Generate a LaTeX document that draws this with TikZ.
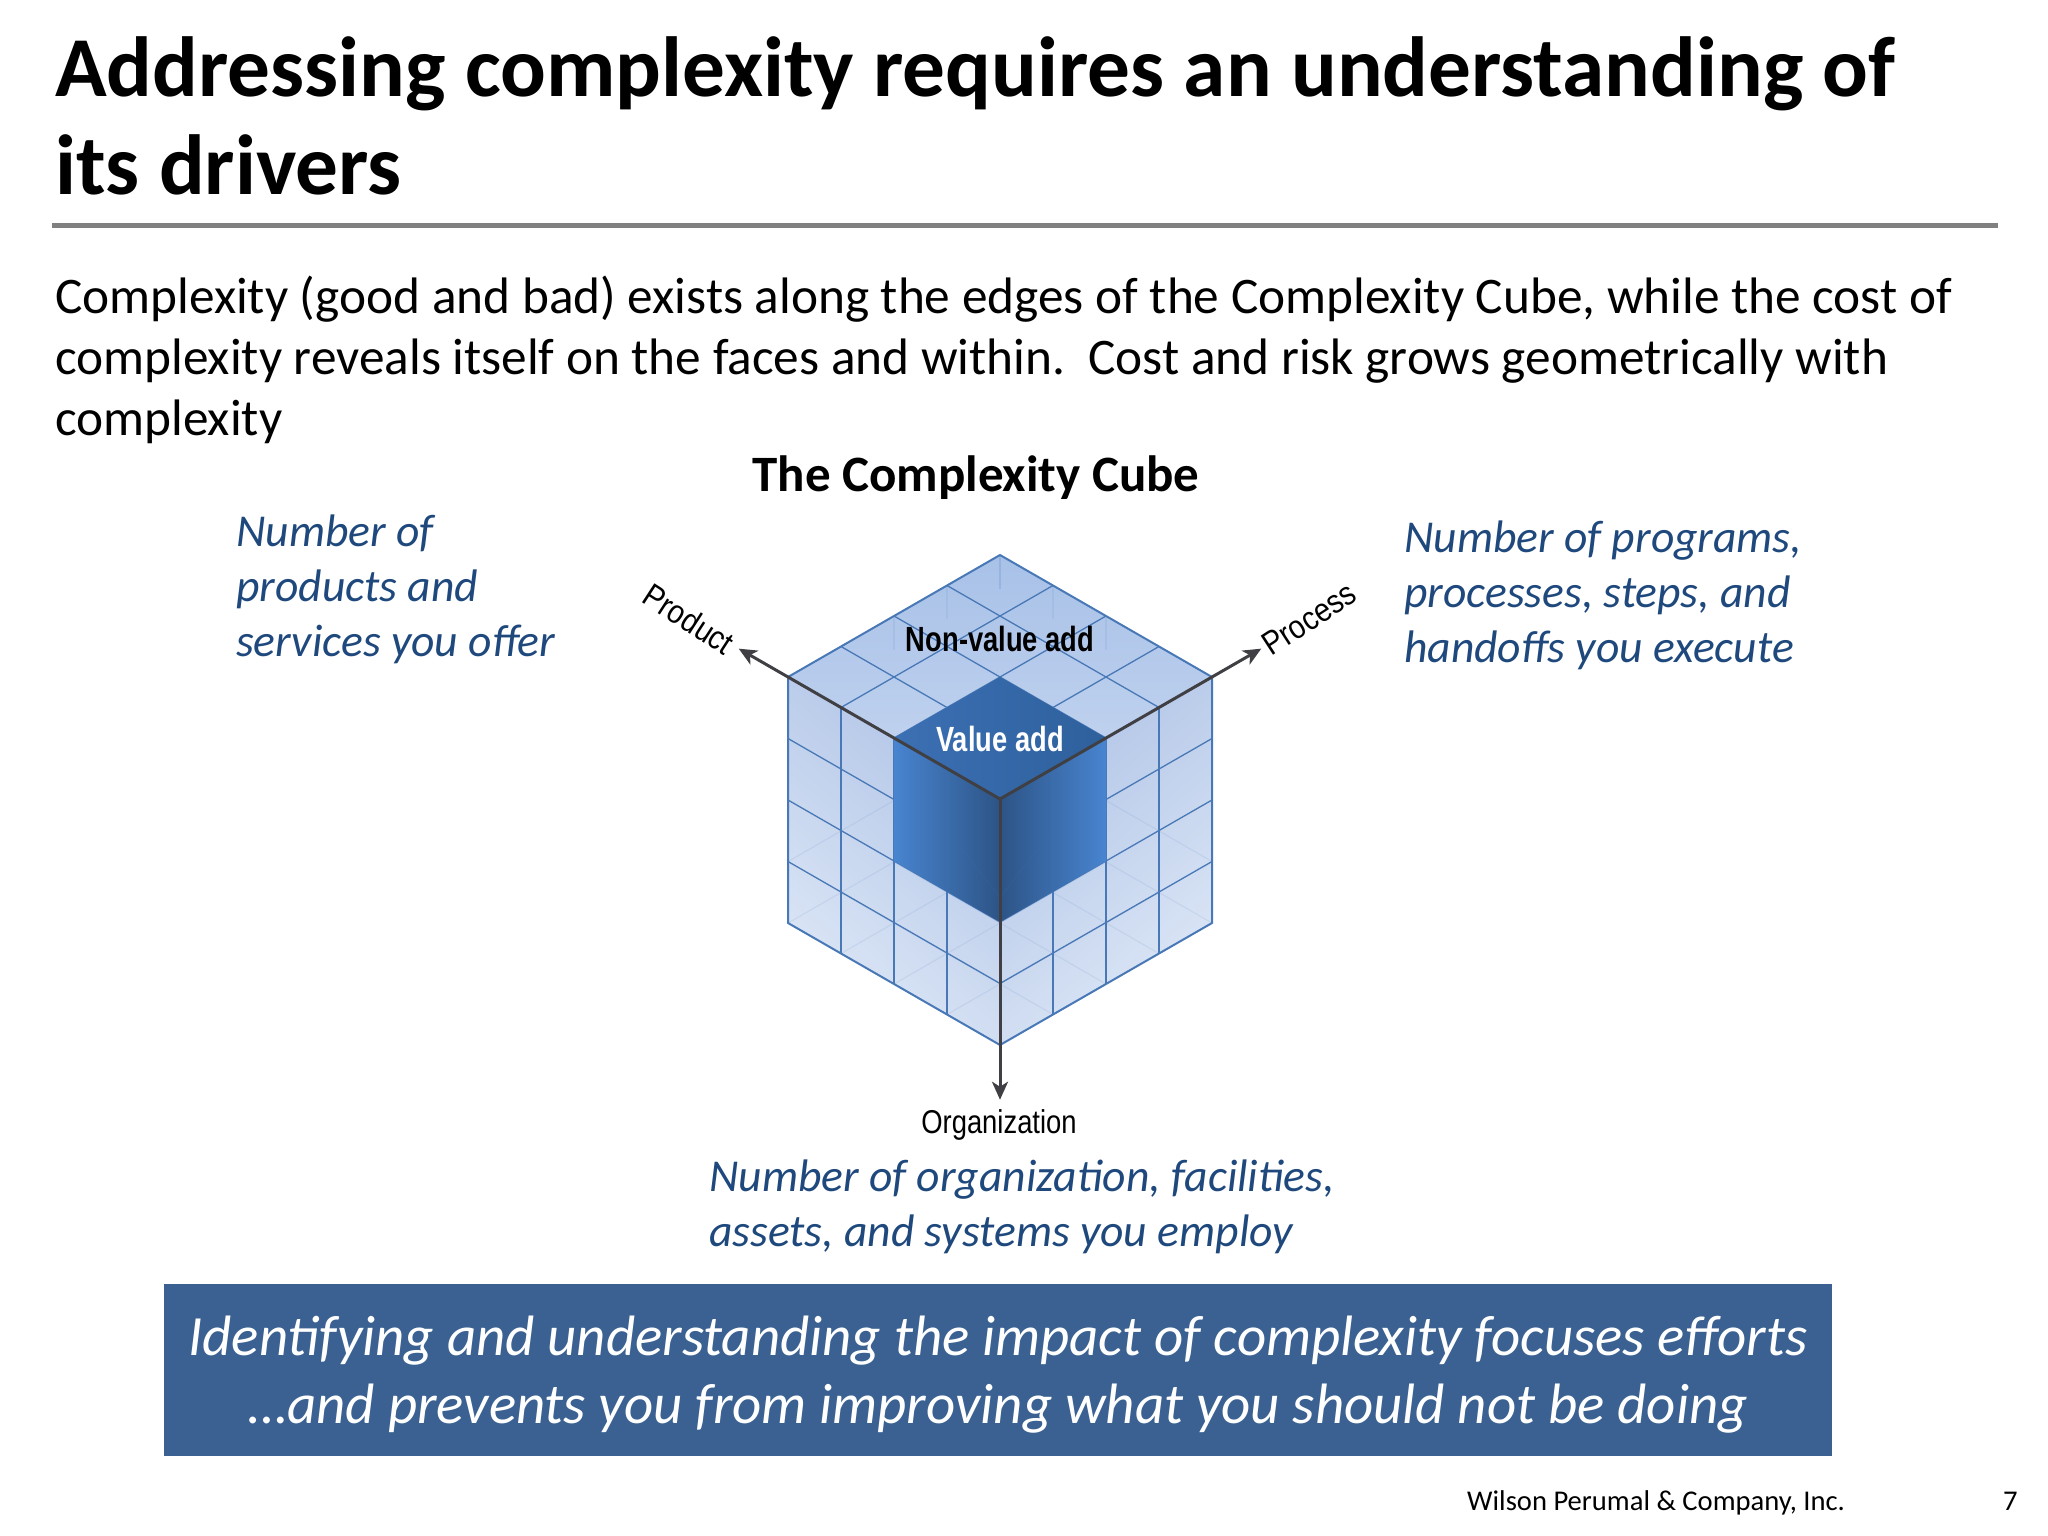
\documentclass[tikz,border=0pt]{standalone}
\usepackage{fontspec}
\setmainfont{Carlito}
\newfontfamily\arialfont{Liberation Sans}
\usepackage{tikz}
\usetikzlibrary{arrows.meta, calc}
\definecolor{navy}{RGB}{31, 73, 125}
\definecolor{banner}{RGB}{58, 97, 145}
\definecolor{rulegray}{RGB}{128, 128, 128}
\definecolor{grid}{RGB}{72, 120, 182}
\definecolor{axis}{RGB}{64, 64, 68}
\definecolor{face-dark}{RGB}{176, 196, 231}
\definecolor{face-light}{RGB}{221, 231, 246}
\definecolor{top-dark}{RGB}{168, 193, 232}
\definecolor{top-light}{RGB}{198, 214, 240}
\definecolor{core-light}{RGB}{72, 132, 208}
\definecolor{core-mid}{RGB}{60, 112, 180}
\definecolor{core-top}{RGB}{46, 96, 156}
\definecolor{core-dark}{RGB}{45, 84, 134}
\tikzset{
  bodytext/.style={anchor=north west, inner sep=0, align=left, font=\fontsize{51.3pt}{61pt}\selectfont},
  sidetext/.style={anchor=north west, inner sep=0, align=left, text=navy, font=\fontsize{45.6pt}{55pt}\selectfont\itshape},
  axislabel/.style={inner sep=0, font=\arialfont\fontsize{33pt}{33pt}\selectfont},
  facelabel/.style={inner sep=0, font=\arialfont\bfseries\fontsize{35pt}{35pt}\selectfont},
  footlabel/.style={anchor=base west, inner sep=0, font=\fontsize{28.6pt}{28.6pt}\selectfont},
  gridline/.style={grid, line width=1.3pt},
  faintline/.style={grid, opacity=0.1, line width=1.2pt},
  arrow/.style={axis, -{Stealth[length=18pt, width=16pt, inset=5pt]}, line width=3pt}
}
\begin{document}
\begin{tikzpicture}[x=1pt, y=-1pt]
    \useasboundingbox (0, 0) rectangle (2048, 1536);

    % heading
    \node[anchor=north west, inner sep=0, align=left, font=\fontsize{85.3pt}{98pt}\selectfont\bfseries] (title) at (55, 36)
      {Addressing complexity requires an understanding of\\its drivers};
    \coordinate (ruleleft) at (52, 225);
    \coordinate (ruleright) at (1998, 225);
    \draw[rulegray, line width=5pt] (ruleleft) -- (ruleright);
    \node[bodytext] (intro) at (55, 275.5)
      {Complexity (good and bad) exists along the edges of the Complexity Cube, while the cost of\\
       complexity reveals itself on the faces and within.\ \ Cost and risk grows geometrically with\\
       complexity};
    \node[anchor=base, inner sep=0, font=\fontsize{51pt}{51pt}\selectfont\bfseries] (cubetitle) at (976, 491) {The Complexity Cube};

    % cube
    \begin{scope}[shift={(1000, 799)}, x={(-53pt, 30.5pt)}, y={(53pt, 30.5pt)}, z={(0pt, -61.5pt)}]
      \coordinate (centre) at (0, 0, 0);
      \coordinate (productend) at (4.93, 0, 0);
      \coordinate (processend) at (0, 4.93, 0);
      \coordinate (organizationend) at (0, 0, 4.89);

      % faces
      \shade[top color=top-dark, bottom color=top-light] (0, 0, 0) -- (4, 0, 0) -- (4, 4, 0) -- (0, 4, 0) -- cycle;
      \shade[top color=face-dark, bottom color=face-light, shading angle=-40] (0, 0, 0) -- (4, 0, 0) -- (4, 0, 4) -- (0, 0, 4) -- cycle;
      \shade[top color=face-dark, bottom color=face-light, shading angle=40] (0, 0, 0) -- (0, 4, 0) -- (0, 4, 4) -- (0, 0, 4) -- cycle;

      % lines seen through the faces
      \foreach \k in {0, 1, 2, 3, 4} {
        \draw[faintline] (\k, 0, 4) -- (\k, 4, 4);
        \draw[faintline] (0, \k, 4) -- (4, \k, 4);
      }
      \draw[faintline] (4, 0, 3) -- (4, 4, 3) -- (0, 4, 3);
      \foreach \k in {2, 3, 4} {
        \draw[faintline] (4, \k, 0) -- (4, \k, 0.55);
        \draw[faintline] (\k, 4, 0) -- (\k, 4, 0.55);
      }

      % grid
      \foreach \k in {1, 2, 3} {
        \draw[gridline] (\k, 0, 0) -- (\k, 4, 0);
        \draw[gridline] (0, \k, 0) -- (4, \k, 0);
        \draw[gridline] (\k, 0, 0) -- (\k, 0, 4);
        \draw[gridline] (0, 0, \k) -- (4, 0, \k);
        \draw[gridline] (0, \k, 0) -- (0, \k, 4);
        \draw[gridline] (0, 0, \k) -- (0, 4, \k);
      }
      \draw[gridline, line width=2pt] (4, 0, 0) -- (4, 4, 0) -- (0, 4, 0) -- (0, 4, 4) -- (0, 0, 4) -- (4, 0, 4) -- cycle;

      % value add block
      \shade[left color=core-mid, right color=core-top] (0, 0, 0) -- (2, 0, 0) -- (2, 2, 0) -- (0, 2, 0) -- cycle;
      \shade[left color=core-light, right color=core-dark] (0, 0, 0) -- (2, 0, 0) -- (2, 0, 2) -- (0, 0, 2) -- cycle;
      \shade[left color=core-dark, middle color=core-mid, right color=core-light] (0, 0, 0) -- (0, 2, 0) -- (0, 2, 2) -- (0, 0, 2) -- cycle;
      \draw[faintline] (1, 0, 0) -- (1, 0, 2);
      \draw[faintline] (0, 1, 0) -- (0, 1, 2);
      \draw[faintline] (1, 0, 1) -- (0, 0, 1.6) -- (0, 1, 1);
    \end{scope}

    % arrows
    \draw[arrow] (centre) -- (productend);
    \draw[arrow] (centre) -- (processend);
    \draw[arrow] (centre) -- (organizationend);

    % cube labels
    \node[facelabel] (nonvalue) at (1000, 639) {\scalebox{0.78}[1]{Non-value add}};
    \node[facelabel, text=white] (valueadd) at (1000, 739) {\scalebox{0.78}[1]{Value add}};
    \node[axislabel, rotate=-33] (productlabel) at (689, 619) {\scalebox{0.88}[1]{Product}};
    \node[axislabel, rotate=33] (processlabel) at (1309, 619) {\scalebox{0.88}[1]{Process}};
    \node[axislabel] (organizationlabel) at (999, 1125) {\scalebox{0.83}[1]{Organization}};

    % notes
    \node[sidetext] (productnote) at (236, 515) {Number of\\products and\\services you offer};
    \node[sidetext] (processnote) at (1404, 521) {Number of programs,\\processes, steps, and\\handoffs you execute};
    \node[sidetext] (organizationnote) at (709, 1160) {Number of organization, facilities,\\assets, and systems you employ};

    % banner
    \node[fill=banner, minimum width=1668pt, minimum height=172pt, inner sep=0] (message) at (998, 1370) {};
    \node[text=white, inner sep=0, align=center, font=\fontsize{56.9pt}{68pt}\selectfont\itshape] (messagetext) at (998, 1375)
      {Identifying and understanding the impact of complexity focuses efforts\\
       …and prevents you from improving what you should not be doing};

    % footer
    \node[footlabel] (company) at (1467, 1510) {Wilson Perumal \& Company, Inc.};
    \node[footlabel] (pagenumber) at (2003, 1510) {7};
\end{tikzpicture}
\end{document}
